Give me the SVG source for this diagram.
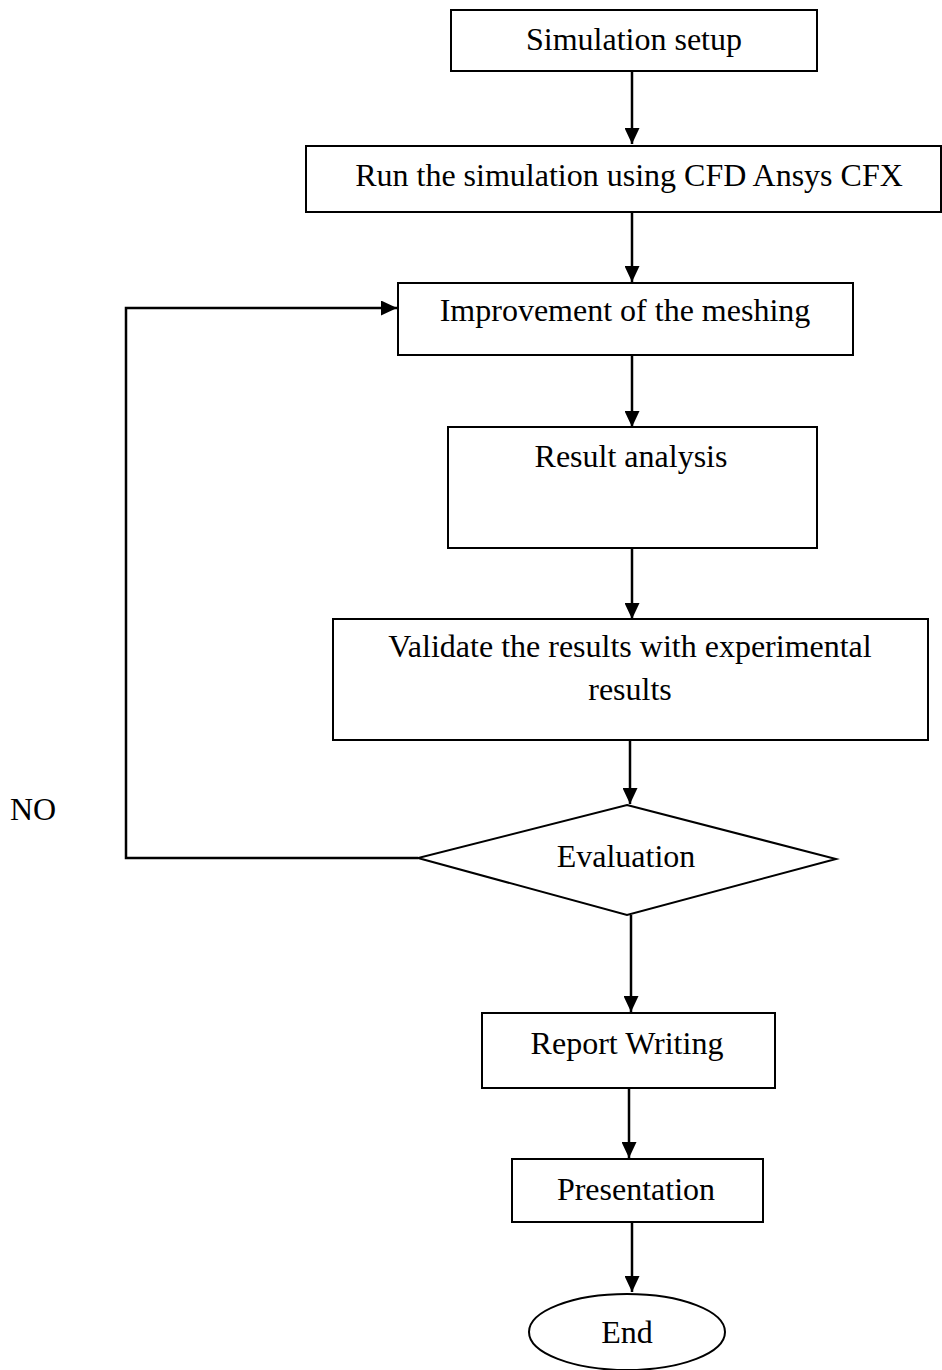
<svg xmlns="http://www.w3.org/2000/svg" width="942" height="1370" viewBox="0 0 942 1370">
<style>
.n{fill:#fff;stroke:#000;stroke-width:2}
.t{font-family:"Liberation Serif","Times New Roman",serif;font-size:32px;fill:#000;text-anchor:middle}
.c{fill:none;stroke:#000;stroke-width:2.5}
</style>
<defs>
<marker id="ah" markerWidth="16" markerHeight="15" refX="16" refY="7.5" orient="auto" markerUnits="userSpaceOnUse" viewBox="0 0 16 15">
<path d="M0,0 L16,7.5 L0,15 Z" fill="#000"/>
</marker>
</defs>
<rect width="942" height="1370" fill="#fff"/>
<g id="connectors">
<line class="c" x1="632" y1="71" x2="632" y2="144" marker-end="url(#ah)"/>
<line class="c" x1="632" y1="212" x2="632" y2="282" marker-end="url(#ah)"/>
<line class="c" x1="632" y1="355" x2="632" y2="427" marker-end="url(#ah)"/>
<line class="c" x1="632" y1="548" x2="632" y2="619" marker-end="url(#ah)"/>
<line class="c" x1="630" y1="740" x2="630" y2="804" marker-end="url(#ah)"/>
<polyline class="c" points="418,858 126,858 126,308 397,308" marker-end="url(#ah)"/>
<line class="c" x1="631" y1="915" x2="631" y2="1012" marker-end="url(#ah)"/>
<line class="c" x1="629" y1="1088" x2="629" y2="1158" marker-end="url(#ah)"/>
<line class="c" x1="632" y1="1222" x2="632" y2="1292" marker-end="url(#ah)"/>
</g>
<g id="n1"><rect class="n" x="451" y="10" width="366" height="61"/><text class="t" x="634" y="50">Simulation setup</text></g>
<g id="n2"><rect class="n" x="306" y="146" width="635" height="66"/><text class="t" x="629" y="186">Run the simulation using CFD Ansys CFX</text></g>
<g id="n3"><rect class="n" x="398" y="283" width="455" height="72"/><text class="t" x="625" y="321">Improvement of the meshing</text></g>
<g id="n4"><rect class="n" x="448" y="427" width="369" height="121"/><text class="t" x="631" y="467">Result analysis</text></g>
<g id="n5"><rect class="n" x="333" y="619" width="595" height="121"/><text class="t" x="630" y="657">Validate the results with experimental</text><text class="t" x="630" y="700">results</text></g>
<g id="n6"><polygon class="n" points="627,805 836,859 627,915 418,858"/><text class="t" x="626" y="867">Evaluation</text></g>
<g id="n7"><rect class="n" x="482" y="1013" width="293" height="75"/><text class="t" x="627" y="1054">Report Writing</text></g>
<g id="n8"><rect class="n" x="512" y="1159" width="251" height="63"/><text class="t" x="636" y="1200">Presentation</text></g>
<g id="n9"><ellipse class="n" cx="627" cy="1332" rx="98" ry="38"/><text class="t" x="627" y="1343">End</text></g>
<text class="t" x="33" y="820">NO</text>
</svg>
